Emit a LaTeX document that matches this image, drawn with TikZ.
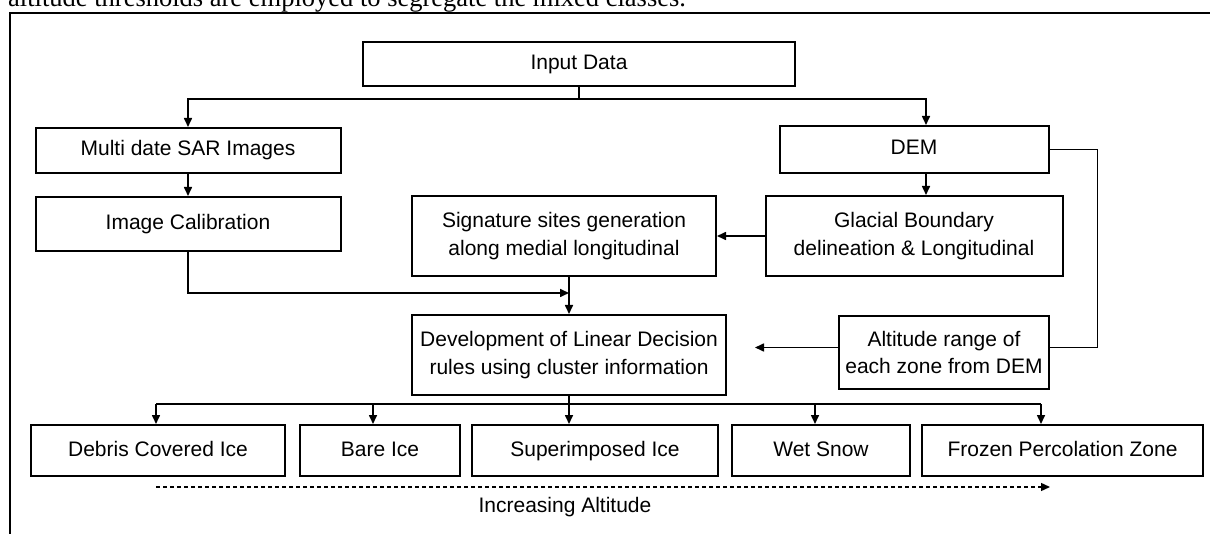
\documentclass[tikz,border=0pt]{standalone}
\usepackage{fontspec}
\setmainfont{Liberation Sans}
\newfontfamily\capfont{Liberation Serif}
\usetikzlibrary{arrows.meta}
\begin{document}
\begin{tikzpicture}[x=1pt,y=-1pt,
  box/.style={draw, line width=2pt, rectangle, inner sep=0pt, align=center,
    font=\fontsize{21}{27.5}\selectfont},
  onebox/.style={box, text height=15.5pt, text depth=4.5pt},
  conn/.style={line width=1.6pt},
  arr/.style={conn, -{Triangle[length=9pt,width=8pt]}},
  lbl/.style={font=\fontsize{21}{27.5}\selectfont, inner sep=0pt}
]
\useasboundingbox (0,0) rectangle (1210,534);
\clip (0,0) rectangle (1210,534);
\fill[white] (0,0) rectangle (1210,534);

% cut-off caption line at the top
\node[anchor=base west, inner sep=0pt, font=\capfont\fontsize{26.5}{30}\selectfont] (cap) at (8,7)
  {altitude thresholds are employed to segregate the mixed classes.};

% frame
\draw[line width=2.2pt] (10,560) -- (10,13) -- (1230,13);

% boxes
\node[onebox, minimum width=432pt, minimum height=44pt] (input) at (579,64) {Input Data};
\node[onebox, minimum width=305pt, minimum height=45pt] (multi) at (188,150.5) {Multi date SAR Images};
\node[onebox, minimum width=305pt, minimum height=54pt] (calib) at (188,224) {Image Calibration};
\node[onebox, minimum width=269pt, minimum height=47pt] (dem) at (914,149.5) {DEM};
\node[box, minimum width=297pt, minimum height=80pt] (glacial) at (914,236) {Glacial Boundary\\delineation \& Longitudinal};
\node[box, minimum width=304pt, minimum height=80pt] (sig) at (564,236) {Signature sites generation\\along medial longitudinal};
\node[box, minimum width=314pt, minimum height=80pt] (dev) at (569,355) {Development of Linear Decision\\rules using cluster information};
\node[box, minimum width=210pt, minimum height=73pt] (alt) at (944,352.5) {Altitude range of\\each zone from DEM};

\node[onebox, minimum width=254pt, minimum height=51pt] (debris) at (158,450.5) {Debris Covered Ice};
\node[onebox, minimum width=160pt, minimum height=51pt] (bare) at (380,450.5) {Bare Ice};
\node[onebox, minimum width=246pt, minimum height=51pt] (super) at (595,450.5) {Superimposed Ice};
\node[onebox, minimum width=178pt, minimum height=51pt] (wet) at (821,450.5) {Wet Snow};
\node[onebox, minimum width=281pt, minimum height=51pt] (frozen) at (1062.5,450.5) {Frozen Percolation Zone};

% top split
\coordinate (t0) at (579,99);
\draw[conn] (input.south) -- (t0);
\draw[arr] (t0) -| (multi.north);
\draw[arr] (t0) -| ([xshift=12pt]dem.north);

\draw[arr] (multi) -- (calib);
\draw[arr] ([xshift=12pt]dem.south) -- ([xshift=12pt]glacial.north);
\draw[arr] (glacial.west) -- (sig.east);

\coordinate (mj) at (569,293);
\draw[arr] (calib.south) |- (mj);
\draw[arr] (sig.south -| dev.north) -- (dev.north);

\draw[conn] (dem.east) -- ++(48,0) |- ([yshift=5pt]alt.east);
\coordinate (ae) at (755,347.5);
\draw[arr] ([yshift=5pt]alt.west) -- (ae);

% bottom split
\coordinate (b1) at (156,404);
\coordinate (b2) at (373,404);
\coordinate (b3) at (569,404);
\coordinate (b4) at (815,404);
\coordinate (b5) at (1041,404);
\draw[conn] (dev.south) -- (b3);
\draw[conn] (b1) -- (b5);
\draw[arr] (b1) -- (b1 |- debris.north);
\draw[arr] (b2) -- (b2 |- bare.north);
\draw[arr] (b3) -- (b3 |- super.north);
\draw[arr] (b4) -- (b4 |- wet.north);
\draw[arr] (b5) -- (b5 |- frozen.north);

% increasing altitude
\coordinate (d1) at (156,487);
\coordinate (d2) at (1050,487);
\draw[line width=1.3pt, dash pattern=on 4pt off 3pt, -{Triangle[length=9pt,width=8pt]}] (d1) -- (d2);
\node[lbl] (inc) at (565,507) {Increasing Altitude};
\end{tikzpicture}
\end{document}
